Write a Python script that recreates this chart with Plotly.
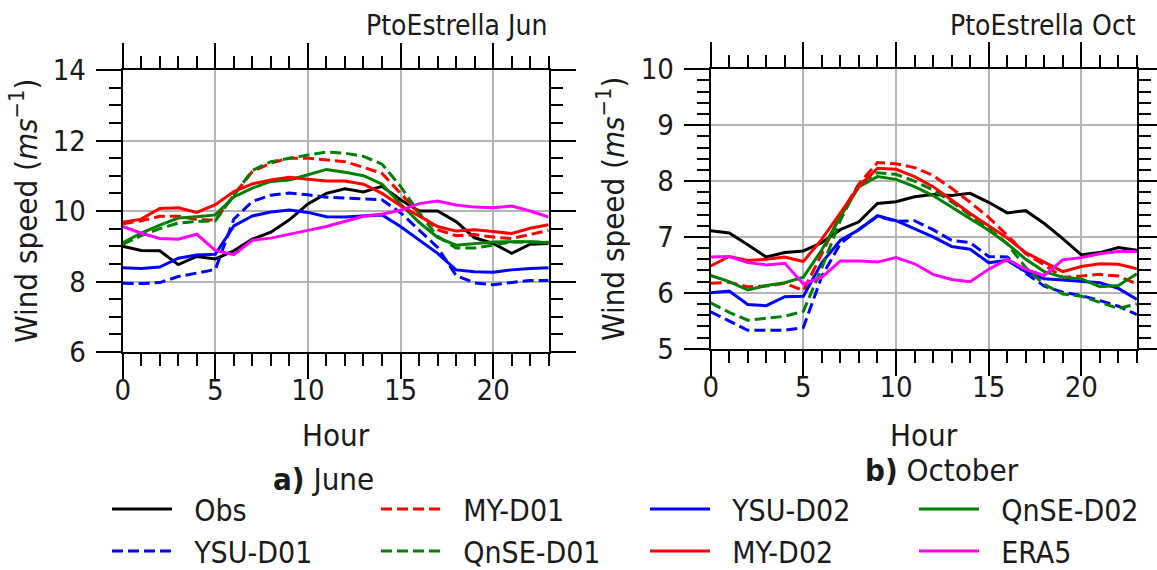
import plotly.graph_objects as go

hours = list(range(24))

# June (PtoEstrella Jun)
jun_obs = [9.0, 8.88, 8.87, 8.48, 8.71, 8.64, 8.87, 9.2, 9.4, 9.75, 10.2, 10.5, 10.63, 10.54, 10.7, 10.32, 10.0, 10.0, 9.7, 9.24, 9.08, 8.8, 9.06, 9.08]
jun_my_d01 = [9.64, 9.72, 9.85, 9.85, 9.76, 9.74, 10.45, 11.12, 11.36, 11.5, 11.5, 11.45, 11.4, 11.24, 11.07, 10.5, 9.94, 9.47, 9.3, 9.33, 9.26, 9.22, 9.33, 9.45]
jun_ysu_d02 = [8.39, 8.37, 8.41, 8.66, 8.75, 8.77, 9.58, 9.86, 9.97, 10.03, 9.96, 9.84, 9.83, 9.85, 9.89, 9.56, 9.18, 8.8, 8.33, 8.28, 8.26, 8.33, 8.37, 8.39]
jun_qnse_d02 = [9.1, 9.37, 9.6, 9.8, 9.84, 9.89, 10.4, 10.65, 10.84, 10.88, 11.03, 11.18, 11.1, 11.0, 10.76, 10.2, 9.68, 9.25, 9.03, 9.08, 9.12, 9.13, 9.13, 9.1]
jun_ysu_d01 = [7.95, 7.94, 7.97, 8.14, 8.24, 8.34, 9.77, 10.27, 10.45, 10.51, 10.46, 10.39, 10.37, 10.34, 10.32, 9.95, 9.47, 8.97, 8.17, 7.96, 7.91, 7.98, 8.03, 8.03]
jun_qnse_d01 = [9.05, 9.3, 9.5, 9.66, 9.7, 9.72, 10.45, 11.15, 11.4, 11.5, 11.59, 11.67, 11.64, 11.55, 11.33, 10.7, 9.94, 9.28, 8.95, 8.95, 9.03, 9.12, 9.12, 9.11]
jun_my_d02 = [9.68, 9.77, 10.07, 10.09, 9.96, 10.18, 10.55, 10.77, 10.88, 10.96, 10.9, 10.85, 10.85, 10.76, 10.5, 10.15, 9.86, 9.56, 9.43, 9.47, 9.42, 9.36, 9.51, 9.61]
jun_era5 = [9.56, 9.37, 9.22, 9.2, 9.34, 8.88, 8.76, 9.17, 9.23, 9.35, 9.45, 9.56, 9.7, 9.85, 9.91, 10.02, 10.21, 10.28, 10.17, 10.11, 10.09, 10.14, 10.0, 9.83]

# October (PtoEstrella Oct)
oct_obs = [7.11, 7.07, 6.86, 6.64, 6.72, 6.75, 6.9, 7.13, 7.27, 7.6, 7.63, 7.72, 7.76, 7.74, 7.78, 7.62, 7.43, 7.47, 7.24, 6.97, 6.68, 6.72, 6.81, 6.76]
oct_my_d01 = [6.17, 6.19, 6.11, 6.12, 6.17, 6.04, 6.7, 7.4, 7.95, 8.33, 8.31, 8.24, 8.1, 7.87, 7.62, 7.35, 7.03, 6.7, 6.5, 6.28, 6.3, 6.33, 6.3, 6.16]
oct_ysu_d02 = [6.0, 6.03, 5.79, 5.77, 5.93, 5.94, 6.54, 6.94, 7.13, 7.38, 7.29, 7.15, 7.0, 6.83, 6.78, 6.54, 6.58, 6.38, 6.25, 6.23, 6.2, 6.18, 6.08, 5.88]
oct_qnse_d02 = [6.31, 6.2, 6.05, 6.13, 6.18, 6.28, 6.77, 7.36, 7.9, 8.08, 8.03, 7.9, 7.74, 7.53, 7.33, 7.12, 6.88, 6.6, 6.38, 6.28, 6.25, 6.11, 6.13, 6.34]
oct_ysu_d01 = [5.66, 5.5, 5.33, 5.33, 5.33, 5.38, 6.3, 6.88, 7.14, 7.37, 7.28, 7.29, 7.13, 6.94, 6.9, 6.65, 6.64, 6.35, 6.12, 6.01, 5.95, 5.86, 5.76, 5.61]
oct_qnse_d01 = [5.82, 5.65, 5.51, 5.55, 5.58, 5.67, 6.45, 7.3, 7.95, 8.15, 8.12, 8.0, 7.84, 7.63, 7.39, 7.15, 6.88, 6.45, 6.15, 5.98, 5.94, 5.83, 5.72, 5.8]
oct_my_d02 = [6.48, 6.65, 6.58, 6.6, 6.64, 6.56, 6.96, 7.44, 7.9, 8.23, 8.21, 8.08, 7.9, 7.66, 7.42, 7.2, 6.98, 6.72, 6.55, 6.38, 6.47, 6.52, 6.51, 6.43]
oct_era5 = [6.64, 6.65, 6.54, 6.5, 6.53, 6.16, 6.28, 6.57, 6.57, 6.55, 6.63, 6.52, 6.33, 6.24, 6.2, 6.42, 6.6, 6.42, 6.31, 6.59, 6.63, 6.7, 6.74, 6.74]

series_names = ["Obs", "MY-D01", "YSU-D02", "QnSE-D02", "YSU-D01", "QnSE-D01", "MY-D02", "ERA5"]
series_colors = ["#000000", "#ff0000", "#0000ff", "#008000", "#0000ff", "#008000", "#ff0000", "#ff00ff"]
series_dashed = [False, True, False, False, True, True, False, False]
jun_data = [jun_obs, jun_my_d01, jun_ysu_d02, jun_qnse_d02, jun_ysu_d01, jun_qnse_d01, jun_my_d02, jun_era5]
oct_data = [oct_obs, oct_my_d01, oct_ysu_d02, oct_qnse_d02, oct_ysu_d01, oct_qnse_d01, oct_my_d02, oct_era5]

FONT = "DejaVu Sans Condensed, DejaVu Sans, sans-serif"
W, H = 1157, 570
NBSP = "\u00a0"

fig = go.Figure()
for i, name in enumerate(series_names):
    line = dict(color=series_colors[i], width=3)
    if series_dashed[i]:
        line["dash"] = "11px,5px"
    fig.add_trace(go.Scatter(x=hours, y=jun_data[i], mode="lines", name=NBSP * 2 + name, line=line,
                             xaxis="x", yaxis="y", showlegend=True))
    fig.add_trace(go.Scatter(x=hours, y=oct_data[i], mode="lines", name=name, line=line,
                             xaxis="x2", yaxis="y2", showlegend=False))

def px_x(v):
    return v / W

def px_y(v):
    return 1 - v / H

axis_common = dict(
    showline=True, linecolor="black", linewidth=2, mirror="ticks",
    ticks="outside", ticklen=25, tickwidth=2, tickcolor="black",
    showgrid=True, gridcolor="#b5b5b5", gridwidth=2,
    zeroline=False,
    tickfont=dict(family=FONT, size=29, color="#1a1a1a"),
)

xcommon = dict(axis_common, range=[0, 23], tick0=0, dtick=5, ticklabelstandoff=-14,
               minor=dict(dtick=1, tick0=0, ticks="outside", ticklen=12, tickwidth=2,
                          tickcolor="black", showgrid=False))

fig.update_layout(
    width=W, height=H,
    margin=dict(l=0, r=0, t=0, b=0, autoexpand=False),
    paper_bgcolor="white", plot_bgcolor="white",
    font=dict(family=FONT, size=30, color="#1a1a1a"),
    xaxis=dict(xcommon, domain=[px_x(122.7), px_x(548.7)], anchor="y"),
    yaxis=dict(axis_common, domain=[px_y(352), px_y(70)], range=[6, 14], tick0=6, dtick=2,
               anchor="x", ticklabelstandoff=4,
               minor=dict(dtick=0.5, tick0=6, ticks="outside", ticklen=12, tickwidth=2,
                          tickcolor="black", showgrid=False)),
    xaxis2=dict(xcommon, domain=[px_x(710.7), px_x(1136.9)], anchor="y2"),
    yaxis2=dict(axis_common, domain=[px_y(348.7), px_y(69.3)], range=[5, 10], tick0=5, dtick=1,
                anchor="x2", ticklabelstandoff=4,
                minor=dict(dtick=0.2, tick0=5, ticks="outside", ticklen=12, tickwidth=2,
                           tickcolor="black", showgrid=False)),
    legend=dict(orientation="h", x=px_x(107), y=px_y(577), xanchor="left", yanchor="bottom",
                entrywidth=194, entrywidthmode="pixels", itemwidth=60,
                font=dict(family=FONT, size=30, color="#1a1a1a"),
                bgcolor="rgba(0,0,0,0)", tracegroupgap=0),
    showlegend=True,
)

ann_font = dict(family=FONT, size=31, color="#1a1a1a")
annotations = [
    dict(text="PtoEstrella Jun", x=px_x(549), y=px_y(25), xanchor="right", yanchor="middle",
         font=dict(family=FONT, size=28, color="#1a1a1a")),
    dict(text="PtoEstrella Oct", x=px_x(1138), y=px_y(25), xanchor="right", yanchor="middle",
         font=dict(family=FONT, size=28, color="#1a1a1a")),
    dict(text="Wind speed (<i>ms</i><sup>−1</sup>)", x=px_x(24), y=px_y(211), textangle=-90,
         xanchor="center", yanchor="middle", font=ann_font),
    dict(text="Wind speed (<i>ms</i><sup>−1</sup>)", x=px_x(611), y=px_y(209), textangle=-90,
         xanchor="center", yanchor="middle", font=ann_font),
    dict(text="Hour", x=px_x(335.7), y=px_y(435), xanchor="center", yanchor="middle", font=ann_font),
    dict(text="Hour", x=px_x(923.8), y=px_y(435), xanchor="center", yanchor="middle", font=ann_font),
    dict(text="<b>a)</b> June", x=px_x(323), y=px_y(479), xanchor="center", yanchor="middle", font=ann_font),
    dict(text="<b>b)</b> October", x=px_x(942), y=px_y(470), xanchor="center", yanchor="middle", font=ann_font),
]
for a in annotations:
    a.update(xref="paper", yref="paper", showarrow=False)
fig.update_layout(annotations=annotations)

fig.write_html("out.html")
